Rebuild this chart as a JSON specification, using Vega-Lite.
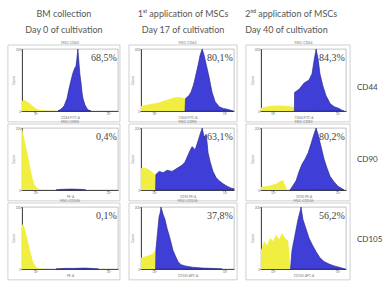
{
"$schema": "https://vega.github.io/schema/vega-lite/v6.json",
"padding": {"left": 7, "top": 10, "right": 0, "bottom": 0},
"background": "white",
"spacing": 7,
"config": {
 "view": {"stroke": "#9a9a9a", "strokeWidth": 0.6},
 "axis": {"grid": false, "domainColor": "#222", "domainWidth": 0.8, "tickColor": "#444", "tickSize": 1.5, "tickWidth": 0.5, "labelFontSize": 3, "labelColor": "#777", "labelPadding": 0, "titleFontSize": 3.2, "titleColor": "#777", "titlePadding": 0, "titleFontWeight": "normal", "labelFont": "Lato", "titleFont": "Lato"},
 "title": {"fontSize": 3.5, "fontWeight": "normal", "color": "#777", "offset": 0.5, "font": "Lato", "anchor": "middle"}
},
"datasets": {
 "pct": [
  {"day": "Day 0", "marker": "CD44", "pct": "68,5%"},
  {"day": "Day 0", "marker": "CD90", "pct": "0,4%"},
  {"day": "Day 0", "marker": "CD105", "pct": "0,1%"},
  {"day": "Day 17", "marker": "CD44", "pct": "80,1%"},
  {"day": "Day 17", "marker": "CD90", "pct": "63,1%"},
  {"day": "Day 17", "marker": "CD105", "pct": "37,8%"},
  {"day": "Day 40", "marker": "CD44", "pct": "84,3%"},
  {"day": "Day 40", "marker": "CD90", "pct": "80,2%"},
  {"day": "Day 40", "marker": "CD105", "pct": "56,2%"}
 ],
 "hist": [
  {"day":"Day 0","marker":"CD44","series":"control","log_fl":1.45,"count":32},
  {"day":"Day 0","marker":"CD44","series":"control","log_fl":1.53,"count":36},
  {"day":"Day 0","marker":"CD44","series":"control","log_fl":1.66,"count":30},
  {"day":"Day 0","marker":"CD44","series":"control","log_fl":1.78,"count":24},
  {"day":"Day 0","marker":"CD44","series":"control","log_fl":1.90,"count":16},
  {"day":"Day 0","marker":"CD44","series":"control","log_fl":2.03,"count":8},
  {"day":"Day 0","marker":"CD44","series":"control","log_fl":2.15,"count":4},
  {"day":"Day 0","marker":"CD44","series":"control","log_fl":2.44,"count":2},
  {"day":"Day 0","marker":"CD44","series":"control","log_fl":2.85,"count":1},
  {"day":"Day 0","marker":"CD44","series":"control","log_fl":3.05,"count":0},
  {"day":"Day 0","marker":"CD44","series":"stained","log_fl":2.93,"count":0},
  {"day":"Day 0","marker":"CD44","series":"stained","log_fl":3.05,"count":6},
  {"day":"Day 0","marker":"CD44","series":"stained","log_fl":3.18,"count":16},
  {"day":"Day 0","marker":"CD44","series":"stained","log_fl":3.30,"count":40},
  {"day":"Day 0","marker":"CD44","series":"stained","log_fl":3.38,"count":70},
  {"day":"Day 0","marker":"CD44","series":"stained","log_fl":3.47,"count":100},
  {"day":"Day 0","marker":"CD44","series":"stained","log_fl":3.55,"count":124},
  {"day":"Day 0","marker":"CD44","series":"stained","log_fl":3.63,"count":140},
  {"day":"Day 0","marker":"CD44","series":"stained","log_fl":3.67,"count":144},
  {"day":"Day 0","marker":"CD44","series":"stained","log_fl":3.71,"count":170},
  {"day":"Day 0","marker":"CD44","series":"stained","log_fl":3.75,"count":200},
  {"day":"Day 0","marker":"CD44","series":"stained","log_fl":3.79,"count":160},
  {"day":"Day 0","marker":"CD44","series":"stained","log_fl":3.83,"count":120},
  {"day":"Day 0","marker":"CD44","series":"stained","log_fl":3.88,"count":90},
  {"day":"Day 0","marker":"CD44","series":"stained","log_fl":3.92,"count":60},
  {"day":"Day 0","marker":"CD44","series":"stained","log_fl":3.96,"count":40},
  {"day":"Day 0","marker":"CD44","series":"stained","log_fl":4.04,"count":20},
  {"day":"Day 0","marker":"CD44","series":"stained","log_fl":4.12,"count":8},
  {"day":"Day 0","marker":"CD44","series":"stained","log_fl":4.21,"count":2},
  {"day":"Day 0","marker":"CD44","series":"stained","log_fl":4.29,"count":0},

  {"day":"Day 17","marker":"CD44","series":"control","log_fl":1.45,"count":16},
  {"day":"Day 17","marker":"CD44","series":"control","log_fl":1.71,"count":20},
  {"day":"Day 17","marker":"CD44","series":"control","log_fl":2.13,"count":26},
  {"day":"Day 17","marker":"CD44","series":"control","log_fl":2.56,"count":36},
  {"day":"Day 17","marker":"CD44","series":"control","log_fl":2.90,"count":44},
  {"day":"Day 17","marker":"CD44","series":"control","log_fl":3.15,"count":44},
  {"day":"Day 17","marker":"CD44","series":"control","log_fl":3.32,"count":40},
  {"day":"Day 17","marker":"CD44","series":"control","log_fl":3.33,"count":0},
  {"day":"Day 17","marker":"CD44","series":"stained","log_fl":3.32,"count":0},
  {"day":"Day 17","marker":"CD44","series":"stained","log_fl":3.34,"count":40},
  {"day":"Day 17","marker":"CD44","series":"stained","log_fl":3.49,"count":50},
  {"day":"Day 17","marker":"CD44","series":"stained","log_fl":3.58,"count":62},
  {"day":"Day 17","marker":"CD44","series":"stained","log_fl":3.66,"count":80},
  {"day":"Day 17","marker":"CD44","series":"stained","log_fl":3.72,"count":96},
  {"day":"Day 17","marker":"CD44","series":"stained","log_fl":3.79,"count":120},
  {"day":"Day 17","marker":"CD44","series":"stained","log_fl":3.88,"count":150},
  {"day":"Day 17","marker":"CD44","series":"stained","log_fl":3.96,"count":180},
  {"day":"Day 17","marker":"CD44","series":"stained","log_fl":4.05,"count":200},
  {"day":"Day 17","marker":"CD44","series":"stained","log_fl":4.13,"count":180},
  {"day":"Day 17","marker":"CD44","series":"stained","log_fl":4.22,"count":150},
  {"day":"Day 17","marker":"CD44","series":"stained","log_fl":4.34,"count":110},
  {"day":"Day 17","marker":"CD44","series":"stained","log_fl":4.47,"count":60},
  {"day":"Day 17","marker":"CD44","series":"stained","log_fl":4.60,"count":30},
  {"day":"Day 17","marker":"CD44","series":"stained","log_fl":4.77,"count":14},
  {"day":"Day 17","marker":"CD44","series":"stained","log_fl":4.94,"count":8},
  {"day":"Day 17","marker":"CD44","series":"stained","log_fl":5.11,"count":6},
  {"day":"Day 17","marker":"CD44","series":"stained","log_fl":5.28,"count":2},
  {"day":"Day 17","marker":"CD44","series":"stained","log_fl":5.36,"count":0},

  {"day":"Day 40","marker":"CD44","series":"control","log_fl":1.45,"count":10},
  {"day":"Day 40","marker":"CD44","series":"control","log_fl":1.82,"count":16},
  {"day":"Day 40","marker":"CD44","series":"control","log_fl":2.29,"count":18},
  {"day":"Day 40","marker":"CD44","series":"control","log_fl":2.75,"count":16},
  {"day":"Day 40","marker":"CD44","series":"control","log_fl":2.98,"count":12},
  {"day":"Day 40","marker":"CD44","series":"control","log_fl":3.0,"count":0},
  {"day":"Day 40","marker":"CD44","series":"stained","log_fl":3.0,"count":0},
  {"day":"Day 40","marker":"CD44","series":"stained","log_fl":3.01,"count":60},
  {"day":"Day 40","marker":"CD44","series":"stained","log_fl":3.22,"count":70},
  {"day":"Day 40","marker":"CD44","series":"stained","log_fl":3.45,"count":90},
  {"day":"Day 40","marker":"CD44","series":"stained","log_fl":3.68,"count":100},
  {"day":"Day 40","marker":"CD44","series":"stained","log_fl":3.82,"count":120},
  {"day":"Day 40","marker":"CD44","series":"stained","log_fl":3.91,"count":160},
  {"day":"Day 40","marker":"CD44","series":"stained","log_fl":4.01,"count":200},
  {"day":"Day 40","marker":"CD44","series":"stained","log_fl":4.10,"count":170},
  {"day":"Day 40","marker":"CD44","series":"stained","log_fl":4.19,"count":120},
  {"day":"Day 40","marker":"CD44","series":"stained","log_fl":4.33,"count":80},
  {"day":"Day 40","marker":"CD44","series":"stained","log_fl":4.47,"count":50},
  {"day":"Day 40","marker":"CD44","series":"stained","log_fl":4.66,"count":24},
  {"day":"Day 40","marker":"CD44","series":"stained","log_fl":4.85,"count":14},
  {"day":"Day 40","marker":"CD44","series":"stained","log_fl":5.08,"count":8},
  {"day":"Day 40","marker":"CD44","series":"stained","log_fl":5.22,"count":2},
  {"day":"Day 40","marker":"CD44","series":"stained","log_fl":5.31,"count":0},

  {"day":"Day 0","marker":"CD90","series":"control","log_fl":1.45,"count":200},
  {"day":"Day 0","marker":"CD90","series":"control","log_fl":1.53,"count":170},
  {"day":"Day 0","marker":"CD90","series":"control","log_fl":1.61,"count":140},
  {"day":"Day 0","marker":"CD90","series":"control","log_fl":1.70,"count":110},
  {"day":"Day 0","marker":"CD90","series":"control","log_fl":1.82,"count":60},
  {"day":"Day 0","marker":"CD90","series":"control","log_fl":1.94,"count":20},
  {"day":"Day 0","marker":"CD90","series":"control","log_fl":2.07,"count":6},
  {"day":"Day 0","marker":"CD90","series":"control","log_fl":2.23,"count":2},
  {"day":"Day 0","marker":"CD90","series":"control","log_fl":2.44,"count":0},
  {"day":"Day 0","marker":"CD90","series":"stained","log_fl":2.85,"count":0},
  {"day":"Day 0","marker":"CD90","series":"stained","log_fl":3.05,"count":2},
  {"day":"Day 0","marker":"CD90","series":"stained","log_fl":3.47,"count":3},
  {"day":"Day 0","marker":"CD90","series":"stained","log_fl":3.88,"count":2},
  {"day":"Day 0","marker":"CD90","series":"stained","log_fl":4.08,"count":0},

  {"day":"Day 17","marker":"CD90","series":"control","log_fl":1.45,"count":70},
  {"day":"Day 17","marker":"CD90","series":"control","log_fl":1.62,"count":72},
  {"day":"Day 17","marker":"CD90","series":"control","log_fl":1.79,"count":66},
  {"day":"Day 17","marker":"CD90","series":"control","log_fl":1.96,"count":56},
  {"day":"Day 17","marker":"CD90","series":"control","log_fl":2.05,"count":50},
  {"day":"Day 17","marker":"CD90","series":"control","log_fl":2.07,"count":0},
  {"day":"Day 17","marker":"CD90","series":"stained","log_fl":2.07,"count":0},
  {"day":"Day 17","marker":"CD90","series":"stained","log_fl":2.08,"count":50},
  {"day":"Day 17","marker":"CD90","series":"stained","log_fl":2.22,"count":60},
  {"day":"Day 17","marker":"CD90","series":"stained","log_fl":2.39,"count":56},
  {"day":"Day 17","marker":"CD90","series":"stained","log_fl":2.56,"count":64},
  {"day":"Day 17","marker":"CD90","series":"stained","log_fl":2.77,"count":60},
  {"day":"Day 17","marker":"CD90","series":"stained","log_fl":2.98,"count":70},
  {"day":"Day 17","marker":"CD90","series":"stained","log_fl":3.19,"count":80},
  {"day":"Day 17","marker":"CD90","series":"stained","log_fl":3.32,"count":90},
  {"day":"Day 17","marker":"CD90","series":"stained","log_fl":3.49,"count":120},
  {"day":"Day 17","marker":"CD90","series":"stained","log_fl":3.62,"count":140},
  {"day":"Day 17","marker":"CD90","series":"stained","log_fl":3.75,"count":130},
  {"day":"Day 17","marker":"CD90","series":"stained","log_fl":3.88,"count":160},
  {"day":"Day 17","marker":"CD90","series":"stained","log_fl":3.96,"count":180},
  {"day":"Day 17","marker":"CD90","series":"stained","log_fl":4.05,"count":200},
  {"day":"Day 17","marker":"CD90","series":"stained","log_fl":4.13,"count":170},
  {"day":"Day 17","marker":"CD90","series":"stained","log_fl":4.22,"count":180},
  {"day":"Day 17","marker":"CD90","series":"stained","log_fl":4.30,"count":120},
  {"day":"Day 17","marker":"CD90","series":"stained","log_fl":4.39,"count":90},
  {"day":"Day 17","marker":"CD90","series":"stained","log_fl":4.51,"count":60},
  {"day":"Day 17","marker":"CD90","series":"stained","log_fl":4.64,"count":40},
  {"day":"Day 17","marker":"CD90","series":"stained","log_fl":4.77,"count":30},
  {"day":"Day 17","marker":"CD90","series":"stained","log_fl":4.94,"count":20},
  {"day":"Day 17","marker":"CD90","series":"stained","log_fl":5.11,"count":12},
  {"day":"Day 17","marker":"CD90","series":"stained","log_fl":5.28,"count":6},
  {"day":"Day 17","marker":"CD90","series":"stained","log_fl":5.40,"count":4},

  {"day":"Day 40","marker":"CD90","series":"control","log_fl":1.45,"count":10},
  {"day":"Day 40","marker":"CD90","series":"control","log_fl":1.82,"count":14},
  {"day":"Day 40","marker":"CD90","series":"control","log_fl":2.15,"count":20},
  {"day":"Day 40","marker":"CD90","series":"control","log_fl":2.33,"count":28},
  {"day":"Day 40","marker":"CD90","series":"control","log_fl":2.47,"count":32},
  {"day":"Day 40","marker":"CD90","series":"control","log_fl":2.57,"count":16},
  {"day":"Day 40","marker":"CD90","series":"control","log_fl":2.66,"count":0},
  {"day":"Day 40","marker":"CD90","series":"stained","log_fl":2.80,"count":0},
  {"day":"Day 40","marker":"CD90","series":"stained","log_fl":2.89,"count":10},
  {"day":"Day 40","marker":"CD90","series":"stained","log_fl":3.08,"count":30},
  {"day":"Day 40","marker":"CD90","series":"stained","log_fl":3.22,"count":60},
  {"day":"Day 40","marker":"CD90","series":"stained","log_fl":3.36,"count":84},
  {"day":"Day 40","marker":"CD90","series":"stained","log_fl":3.50,"count":100},
  {"day":"Day 40","marker":"CD90","series":"stained","log_fl":3.64,"count":120},
  {"day":"Day 40","marker":"CD90","series":"stained","log_fl":3.78,"count":150},
  {"day":"Day 40","marker":"CD90","series":"stained","log_fl":3.91,"count":180},
  {"day":"Day 40","marker":"CD90","series":"stained","log_fl":4.01,"count":200},
  {"day":"Day 40","marker":"CD90","series":"stained","log_fl":4.10,"count":180},
  {"day":"Day 40","marker":"CD90","series":"stained","log_fl":4.24,"count":140},
  {"day":"Day 40","marker":"CD90","series":"stained","log_fl":4.38,"count":100},
  {"day":"Day 40","marker":"CD90","series":"stained","log_fl":4.52,"count":70},
  {"day":"Day 40","marker":"CD90","series":"stained","log_fl":4.66,"count":44},
  {"day":"Day 40","marker":"CD90","series":"stained","log_fl":4.85,"count":26},
  {"day":"Day 40","marker":"CD90","series":"stained","log_fl":5.03,"count":12},
  {"day":"Day 40","marker":"CD90","series":"stained","log_fl":5.22,"count":4},
  {"day":"Day 40","marker":"CD90","series":"stained","log_fl":5.31,"count":0},

  {"day":"Day 0","marker":"CD105","series":"control","log_fl":1.45,"count":144},
  {"day":"Day 0","marker":"CD105","series":"control","log_fl":1.53,"count":140},
  {"day":"Day 0","marker":"CD105","series":"control","log_fl":1.66,"count":100},
  {"day":"Day 0","marker":"CD105","series":"control","log_fl":1.78,"count":60},
  {"day":"Day 0","marker":"CD105","series":"control","log_fl":1.90,"count":24},
  {"day":"Day 0","marker":"CD105","series":"control","log_fl":2.03,"count":6},
  {"day":"Day 0","marker":"CD105","series":"control","log_fl":2.23,"count":2},
  {"day":"Day 0","marker":"CD105","series":"control","log_fl":2.44,"count":0},
  {"day":"Day 0","marker":"CD105","series":"stained","log_fl":2.85,"count":0},
  {"day":"Day 0","marker":"CD105","series":"stained","log_fl":3.20,"count":2},
  {"day":"Day 0","marker":"CD105","series":"stained","log_fl":3.60,"count":2},
  {"day":"Day 0","marker":"CD105","series":"stained","log_fl":4.00,"count":3},
  {"day":"Day 0","marker":"CD105","series":"stained","log_fl":4.30,"count":2},
  {"day":"Day 0","marker":"CD105","series":"stained","log_fl":4.60,"count":0},

  {"day":"Day 17","marker":"CD105","series":"control","log_fl":1.45,"count":36},
  {"day":"Day 17","marker":"CD105","series":"control","log_fl":1.62,"count":40},
  {"day":"Day 17","marker":"CD105","series":"control","log_fl":1.79,"count":44},
  {"day":"Day 17","marker":"CD105","series":"control","log_fl":1.96,"count":50},
  {"day":"Day 17","marker":"CD105","series":"control","log_fl":2.05,"count":60},
  {"day":"Day 17","marker":"CD105","series":"control","log_fl":2.07,"count":0},
  {"day":"Day 17","marker":"CD105","series":"stained","log_fl":2.07,"count":0},
  {"day":"Day 17","marker":"CD105","series":"stained","log_fl":2.08,"count":60},
  {"day":"Day 17","marker":"CD105","series":"stained","log_fl":2.13,"count":100},
  {"day":"Day 17","marker":"CD105","series":"stained","log_fl":2.22,"count":170},
  {"day":"Day 17","marker":"CD105","series":"stained","log_fl":2.26,"count":180},
  {"day":"Day 17","marker":"CD105","series":"stained","log_fl":2.30,"count":200},
  {"day":"Day 17","marker":"CD105","series":"stained","log_fl":2.39,"count":176},
  {"day":"Day 17","marker":"CD105","series":"stained","log_fl":2.47,"count":160},
  {"day":"Day 17","marker":"CD105","series":"stained","log_fl":2.56,"count":130},
  {"day":"Day 17","marker":"CD105","series":"stained","log_fl":2.64,"count":110},
  {"day":"Day 17","marker":"CD105","series":"stained","log_fl":2.73,"count":84},
  {"day":"Day 17","marker":"CD105","series":"stained","log_fl":2.81,"count":60},
  {"day":"Day 17","marker":"CD105","series":"stained","log_fl":2.90,"count":44},
  {"day":"Day 17","marker":"CD105","series":"stained","log_fl":3.02,"count":24},
  {"day":"Day 17","marker":"CD105","series":"stained","log_fl":3.15,"count":14},
  {"day":"Day 17","marker":"CD105","series":"stained","log_fl":3.32,"count":10},
  {"day":"Day 17","marker":"CD105","series":"stained","log_fl":3.62,"count":6},
  {"day":"Day 17","marker":"CD105","series":"stained","log_fl":4.05,"count":3},
  {"day":"Day 17","marker":"CD105","series":"stained","log_fl":4.47,"count":2},
  {"day":"Day 17","marker":"CD105","series":"stained","log_fl":4.90,"count":0},

  {"day":"Day 40","marker":"CD105","series":"control","log_fl":1.45,"count":60},
  {"day":"Day 40","marker":"CD105","series":"control","log_fl":1.59,"count":90},
  {"day":"Day 40","marker":"CD105","series":"control","log_fl":1.73,"count":76},
  {"day":"Day 40","marker":"CD105","series":"control","log_fl":1.87,"count":100},
  {"day":"Day 40","marker":"CD105","series":"control","log_fl":2.01,"count":90},
  {"day":"Day 40","marker":"CD105","series":"control","log_fl":2.15,"count":110},
  {"day":"Day 40","marker":"CD105","series":"control","log_fl":2.29,"count":96},
  {"day":"Day 40","marker":"CD105","series":"control","log_fl":2.43,"count":116},
  {"day":"Day 40","marker":"CD105","series":"control","log_fl":2.57,"count":100},
  {"day":"Day 40","marker":"CD105","series":"control","log_fl":2.71,"count":90},
  {"day":"Day 40","marker":"CD105","series":"control","log_fl":2.78,"count":40},
  {"day":"Day 40","marker":"CD105","series":"control","log_fl":2.80,"count":0},
  {"day":"Day 40","marker":"CD105","series":"stained","log_fl":2.82,"count":0},
  {"day":"Day 40","marker":"CD105","series":"stained","log_fl":2.89,"count":60},
  {"day":"Day 40","marker":"CD105","series":"stained","log_fl":3.03,"count":110},
  {"day":"Day 40","marker":"CD105","series":"stained","log_fl":3.17,"count":160},
  {"day":"Day 40","marker":"CD105","series":"stained","log_fl":3.26,"count":184},
  {"day":"Day 40","marker":"CD105","series":"stained","log_fl":3.31,"count":200},
  {"day":"Day 40","marker":"CD105","series":"stained","log_fl":3.40,"count":160},
  {"day":"Day 40","marker":"CD105","series":"stained","log_fl":3.54,"count":130},
  {"day":"Day 40","marker":"CD105","series":"stained","log_fl":3.68,"count":100},
  {"day":"Day 40","marker":"CD105","series":"stained","log_fl":3.82,"count":80},
  {"day":"Day 40","marker":"CD105","series":"stained","log_fl":4.01,"count":56},
  {"day":"Day 40","marker":"CD105","series":"stained","log_fl":4.19,"count":36},
  {"day":"Day 40","marker":"CD105","series":"stained","log_fl":4.38,"count":24},
  {"day":"Day 40","marker":"CD105","series":"stained","log_fl":4.61,"count":16},
  {"day":"Day 40","marker":"CD105","series":"stained","log_fl":4.85,"count":10},
  {"day":"Day 40","marker":"CD105","series":"stained","log_fl":5.08,"count":6},
  {"day":"Day 40","marker":"CD105","series":"stained","log_fl":5.26,"count":2},
  {"day":"Day 40","marker":"CD105","series":"stained","log_fl":5.36,"count":0}
 ]
},
"hconcat": [
 {
  "title": {"text": "BM collection", "subtitle": "Day 0 of cultivation", "fontSize": 9, "subtitleFontSize": 9, "color": "#555", "subtitleColor": "#555", "font": "Lato", "subtitleFont": "Lato", "subtitlePadding": 7, "offset": 5, "anchor": "middle"},
  "spacing": -4,
  "vconcat": [
   {"width": 96, "height": 62, "title": "MSC-CD44",
    "layer": [
     {"data": {"values": [{"frame": "panel"}]}, "mark": {"type": "rect", "fill": null, "stroke": "#c4c4c4", "strokeWidth": 0.8}, "encoding": {"x": {"datum": 0.87, "type": "quantitative"}, "x2": {"datum": 5.48}, "y": {"datum": -35, "type": "quantitative"}, "y2": {"datum": 213}}},
     {"data": {"name": "hist"}, "transform": [{"filter": "datum.day === 'Day 0' && datum.marker === 'CD44' && datum.series === 'control'"}], "mark": {"type": "area", "color": "#f0ee40"},
      "encoding": {"x": {"field": "log_fl", "type": "quantitative", "scale": {"domain": [1.45, 5.4], "nice": false, "zero": false}, "axis": {"title": "CD44 FITC-A", "values": [2,3,4,5], "labelExpr": "'10' + ['⁰','¹','²','³','⁴','⁵'][datum.value]"}}, "y": {"field": "count", "type": "quantitative", "scale": {"domain": [0, 200]}, "axis": {"title": "Count", "values": [0,50,100,150,200]}}}},
     {"data": {"name": "hist"}, "transform": [{"filter": "datum.day === 'Day 0' && datum.marker === 'CD44' && datum.series === 'stained'"}], "mark": {"type": "area", "color": "#3f3fd8", "stroke": "#20207a", "strokeWidth": 0.6},
      "encoding": {"x": {"field": "log_fl", "type": "quantitative"}, "y": {"field": "count", "type": "quantitative"}}},
     {"data": {"name": "pct"}, "transform": [{"filter": "datum.day === 'Day 0' && datum.marker === 'CD44'"}], "mark": {"type": "text", "align": "right", "baseline": "middle", "font": "Liberation Serif", "fontSize": 10, "fill": "#444"}, "encoding": {"x": {"datum": 5.35, "type": "quantitative"}, "y": {"datum": 172, "type": "quantitative"}, "text": {"field": "pct", "type": "nominal"}}}
    ]},
   {"width": 96, "height": 62, "title": "MSC-CD90",
    "layer": [
     {"data": {"values": [{"frame": "panel"}]}, "mark": {"type": "rect", "fill": null, "stroke": "#c4c4c4", "strokeWidth": 0.8}, "encoding": {"x": {"datum": 0.87, "type": "quantitative"}, "x2": {"datum": 5.48}, "y": {"datum": -35, "type": "quantitative"}, "y2": {"datum": 213}}},
     {"data": {"name": "hist"}, "transform": [{"filter": "datum.day === 'Day 0' && datum.marker === 'CD90' && datum.series === 'control'"}], "mark": {"type": "area", "color": "#f0ee40"},
      "encoding": {"x": {"field": "log_fl", "type": "quantitative", "scale": {"domain": [1.45, 5.4], "nice": false, "zero": false}, "axis": {"title": "PE-A", "values": [2,3,4,5], "labelExpr": "'10' + ['⁰','¹','²','³','⁴','⁵'][datum.value]"}}, "y": {"field": "count", "type": "quantitative", "scale": {"domain": [0, 200]}, "axis": {"title": "Count", "values": [0,50,100,150,200]}}}},
     {"data": {"name": "hist"}, "transform": [{"filter": "datum.day === 'Day 0' && datum.marker === 'CD90' && datum.series === 'stained'"}], "mark": {"type": "area", "color": "#3f3fd8", "stroke": "#20207a", "strokeWidth": 0.6},
      "encoding": {"x": {"field": "log_fl", "type": "quantitative"}, "y": {"field": "count", "type": "quantitative"}}},
     {"data": {"name": "pct"}, "transform": [{"filter": "datum.day === 'Day 0' && datum.marker === 'CD90'"}], "mark": {"type": "text", "align": "right", "baseline": "middle", "font": "Liberation Serif", "fontSize": 10, "fill": "#444"}, "encoding": {"x": {"datum": 5.35, "type": "quantitative"}, "y": {"datum": 172, "type": "quantitative"}, "text": {"field": "pct", "type": "nominal"}}}
    ]},
   {"width": 96, "height": 62, "title": "MSC-CD105",
    "layer": [
     {"data": {"values": [{"frame": "panel"}]}, "mark": {"type": "rect", "fill": null, "stroke": "#c4c4c4", "strokeWidth": 0.8}, "encoding": {"x": {"datum": 0.87, "type": "quantitative"}, "x2": {"datum": 5.48}, "y": {"datum": -35, "type": "quantitative"}, "y2": {"datum": 213}}},
     {"data": {"name": "hist"}, "transform": [{"filter": "datum.day === 'Day 0' && datum.marker === 'CD105' && datum.series === 'control'"}], "mark": {"type": "area", "color": "#f0ee40"},
      "encoding": {"x": {"field": "log_fl", "type": "quantitative", "scale": {"domain": [1.45, 5.4], "nice": false, "zero": false}, "axis": {"title": "PE-A", "values": [2,3,4,5], "labelExpr": "'10' + ['⁰','¹','²','³','⁴','⁵'][datum.value]"}}, "y": {"field": "count", "type": "quantitative", "scale": {"domain": [0, 200]}, "axis": {"title": "Count", "values": [0,50,100,150,200]}}}},
     {"data": {"name": "hist"}, "transform": [{"filter": "datum.day === 'Day 0' && datum.marker === 'CD105' && datum.series === 'stained'"}], "mark": {"type": "area", "color": "#3f3fd8", "stroke": "#20207a", "strokeWidth": 0.6},
      "encoding": {"x": {"field": "log_fl", "type": "quantitative"}, "y": {"field": "count", "type": "quantitative"}}},
     {"data": {"name": "pct"}, "transform": [{"filter": "datum.day === 'Day 0' && datum.marker === 'CD105'"}], "mark": {"type": "text", "align": "right", "baseline": "middle", "font": "Liberation Serif", "fontSize": 10, "fill": "#444"}, "encoding": {"x": {"datum": 5.35, "type": "quantitative"}, "y": {"datum": 172, "type": "quantitative"}, "text": {"field": "pct", "type": "nominal"}}}
    ]}
  ]
 },
 {
  "title": {"text": "1ˢᵗ application of MSCs", "subtitle": "Day 17 of cultivation", "fontSize": 9, "subtitleFontSize": 9, "color": "#555", "subtitleColor": "#555", "font": "Lato", "subtitleFont": "Lato", "subtitlePadding": 7, "offset": 5, "anchor": "middle"},
  "spacing": -4,
  "vconcat": [
   {"width": 93, "height": 62, "title": "MSC-CD44",
    "layer": [
     {"data": {"values": [{"frame": "panel"}]}, "mark": {"type": "rect", "fill": null, "stroke": "#c4c4c4", "strokeWidth": 0.8}, "encoding": {"x": {"datum": 0.94, "type": "quantitative"}, "x2": {"datum": 5.53}, "y": {"datum": -35, "type": "quantitative"}, "y2": {"datum": 213}}},
     {"data": {"name": "hist"}, "transform": [{"filter": "datum.day === 'Day 17' && datum.marker === 'CD44' && datum.series === 'control'"}], "mark": {"type": "area", "color": "#f0ee40"},
      "encoding": {"x": {"field": "log_fl", "type": "quantitative", "scale": {"domain": [1.45, 5.4], "nice": false, "zero": false}, "axis": {"title": "CD44 FITC-A", "values": [2,3,4,5], "labelExpr": "'10' + ['⁰','¹','²','³','⁴','⁵'][datum.value]"}}, "y": {"field": "count", "type": "quantitative", "scale": {"domain": [0, 200]}, "axis": {"title": "Count", "values": [0,50,100,150,200]}}}},
     {"data": {"name": "hist"}, "transform": [{"filter": "datum.day === 'Day 17' && datum.marker === 'CD44' && datum.series === 'stained'"}], "mark": {"type": "area", "color": "#3f3fd8", "stroke": "#20207a", "strokeWidth": 0.6},
      "encoding": {"x": {"field": "log_fl", "type": "quantitative"}, "y": {"field": "count", "type": "quantitative"}}},
     {"data": {"name": "pct"}, "transform": [{"filter": "datum.day === 'Day 17' && datum.marker === 'CD44'"}], "mark": {"type": "text", "align": "right", "baseline": "middle", "font": "Liberation Serif", "fontSize": 10, "fill": "#444"}, "encoding": {"x": {"datum": 5.35, "type": "quantitative"}, "y": {"datum": 172, "type": "quantitative"}, "text": {"field": "pct", "type": "nominal"}}}
    ]},
   {"width": 93, "height": 62, "title": "MSC-CD90",
    "layer": [
     {"data": {"values": [{"frame": "panel"}]}, "mark": {"type": "rect", "fill": null, "stroke": "#c4c4c4", "strokeWidth": 0.8}, "encoding": {"x": {"datum": 0.94, "type": "quantitative"}, "x2": {"datum": 5.53}, "y": {"datum": -35, "type": "quantitative"}, "y2": {"datum": 213}}},
     {"data": {"name": "hist"}, "transform": [{"filter": "datum.day === 'Day 17' && datum.marker === 'CD90' && datum.series === 'control'"}], "mark": {"type": "area", "color": "#f0ee40"},
      "encoding": {"x": {"field": "log_fl", "type": "quantitative", "scale": {"domain": [1.45, 5.4], "nice": false, "zero": false}, "axis": {"title": "CD90 PE-A", "values": [2,3,4,5], "labelExpr": "'10' + ['⁰','¹','²','³','⁴','⁵'][datum.value]"}}, "y": {"field": "count", "type": "quantitative", "scale": {"domain": [0, 200]}, "axis": {"title": "Count", "values": [0,50,100,150,200]}}}},
     {"data": {"name": "hist"}, "transform": [{"filter": "datum.day === 'Day 17' && datum.marker === 'CD90' && datum.series === 'stained'"}], "mark": {"type": "area", "color": "#3f3fd8", "stroke": "#20207a", "strokeWidth": 0.6},
      "encoding": {"x": {"field": "log_fl", "type": "quantitative"}, "y": {"field": "count", "type": "quantitative"}}},
     {"data": {"name": "pct"}, "transform": [{"filter": "datum.day === 'Day 17' && datum.marker === 'CD90'"}], "mark": {"type": "text", "align": "right", "baseline": "middle", "font": "Liberation Serif", "fontSize": 10, "fill": "#444"}, "encoding": {"x": {"datum": 5.35, "type": "quantitative"}, "y": {"datum": 172, "type": "quantitative"}, "text": {"field": "pct", "type": "nominal"}}}
    ]},
   {"width": 93, "height": 62, "title": "MSC-CD105",
    "layer": [
     {"data": {"values": [{"frame": "panel"}]}, "mark": {"type": "rect", "fill": null, "stroke": "#c4c4c4", "strokeWidth": 0.8}, "encoding": {"x": {"datum": 0.94, "type": "quantitative"}, "x2": {"datum": 5.53}, "y": {"datum": -35, "type": "quantitative"}, "y2": {"datum": 213}}},
     {"data": {"name": "hist"}, "transform": [{"filter": "datum.day === 'Day 17' && datum.marker === 'CD105' && datum.series === 'control'"}], "mark": {"type": "area", "color": "#f0ee40"},
      "encoding": {"x": {"field": "log_fl", "type": "quantitative", "scale": {"domain": [1.45, 5.4], "nice": false, "zero": false}, "axis": {"title": "CD105 APC-A", "values": [2,3,4,5], "labelExpr": "'10' + ['⁰','¹','²','³','⁴','⁵'][datum.value]"}}, "y": {"field": "count", "type": "quantitative", "scale": {"domain": [0, 200]}, "axis": {"title": "Count", "values": [0,50,100,150,200]}}}},
     {"data": {"name": "hist"}, "transform": [{"filter": "datum.day === 'Day 17' && datum.marker === 'CD105' && datum.series === 'stained'"}], "mark": {"type": "area", "color": "#3f3fd8", "stroke": "#20207a", "strokeWidth": 0.6},
      "encoding": {"x": {"field": "log_fl", "type": "quantitative"}, "y": {"field": "count", "type": "quantitative"}}},
     {"data": {"name": "pct"}, "transform": [{"filter": "datum.day === 'Day 17' && datum.marker === 'CD105'"}], "mark": {"type": "text", "align": "right", "baseline": "middle", "font": "Liberation Serif", "fontSize": 10, "fill": "#444"}, "encoding": {"x": {"datum": 5.35, "type": "quantitative"}, "y": {"datum": 172, "type": "quantitative"}, "text": {"field": "pct", "type": "nominal"}}}
    ]}
  ]
 },
 {
  "title": {"text": "2ⁿᵈ application of MSCs", "subtitle": "Day 40 of cultivation", "fontSize": 9, "subtitleFontSize": 9, "color": "#555", "subtitleColor": "#555", "font": "Lato", "subtitleFont": "Lato", "subtitlePadding": 7, "offset": 5, "anchor": "start"},
  "spacing": -4,
  "vconcat": [
   {"width": 85, "height": 62, "title": "MSC-CD44",
    "layer": [
     {"data": {"values": [{"frame": "panel"}]}, "mark": {"type": "rect", "fill": null, "stroke": "#c4c4c4", "strokeWidth": 0.8}, "encoding": {"x": {"datum": 0.75, "type": "quantitative"}, "x2": {"datum": 5.59}, "y": {"datum": -35, "type": "quantitative"}, "y2": {"datum": 213}}},
     {"data": {"name": "hist"}, "transform": [{"filter": "datum.day === 'Day 40' && datum.marker === 'CD44' && datum.series === 'control'"}], "mark": {"type": "area", "color": "#f0ee40"},
      "encoding": {"x": {"field": "log_fl", "type": "quantitative", "scale": {"domain": [1.45, 5.4], "nice": false, "zero": false}, "axis": {"title": "CD44 FITC-A", "values": [2,3,4,5], "labelExpr": "'10' + ['⁰','¹','²','³','⁴','⁵'][datum.value]"}}, "y": {"field": "count", "type": "quantitative", "scale": {"domain": [0, 200]}, "axis": {"title": "Count", "values": [0,50,100,150,200]}}}},
     {"data": {"name": "hist"}, "transform": [{"filter": "datum.day === 'Day 40' && datum.marker === 'CD44' && datum.series === 'stained'"}], "mark": {"type": "area", "color": "#3f3fd8", "stroke": "#20207a", "strokeWidth": 0.6},
      "encoding": {"x": {"field": "log_fl", "type": "quantitative"}, "y": {"field": "count", "type": "quantitative"}}},
     {"data": {"name": "pct"}, "transform": [{"filter": "datum.day === 'Day 40' && datum.marker === 'CD44'"}], "mark": {"type": "text", "align": "right", "baseline": "middle", "font": "Liberation Serif", "fontSize": 10, "fill": "#444"}, "encoding": {"x": {"datum": 5.35, "type": "quantitative"}, "y": {"datum": 172, "type": "quantitative"}, "text": {"field": "pct", "type": "nominal"}}},
     {"data": {"values": [{"label": "CD44"}]}, "mark": {"type": "text", "align": "left", "baseline": "middle", "dx": 11, "font": "Lato", "fontSize": 8, "fill": "#444"}, "encoding": {"x": {"datum": 5.4, "type": "quantitative"}, "y": {"datum": 73, "type": "quantitative"}, "text": {"field": "label", "type": "nominal"}}}
    ]},
   {"width": 85, "height": 62, "title": "MSC-CD90",
    "layer": [
     {"data": {"values": [{"frame": "panel"}]}, "mark": {"type": "rect", "fill": null, "stroke": "#c4c4c4", "strokeWidth": 0.8}, "encoding": {"x": {"datum": 0.75, "type": "quantitative"}, "x2": {"datum": 5.59}, "y": {"datum": -35, "type": "quantitative"}, "y2": {"datum": 213}}},
     {"data": {"name": "hist"}, "transform": [{"filter": "datum.day === 'Day 40' && datum.marker === 'CD90' && datum.series === 'control'"}], "mark": {"type": "area", "color": "#f0ee40"},
      "encoding": {"x": {"field": "log_fl", "type": "quantitative", "scale": {"domain": [1.45, 5.4], "nice": false, "zero": false}, "axis": {"title": "CD90 PE-A", "values": [2,3,4,5], "labelExpr": "'10' + ['⁰','¹','²','³','⁴','⁵'][datum.value]"}}, "y": {"field": "count", "type": "quantitative", "scale": {"domain": [0, 200]}, "axis": {"title": "Count", "values": [0,50,100,150,200]}}}},
     {"data": {"name": "hist"}, "transform": [{"filter": "datum.day === 'Day 40' && datum.marker === 'CD90' && datum.series === 'stained'"}], "mark": {"type": "area", "color": "#3f3fd8", "stroke": "#20207a", "strokeWidth": 0.6},
      "encoding": {"x": {"field": "log_fl", "type": "quantitative"}, "y": {"field": "count", "type": "quantitative"}}},
     {"data": {"name": "pct"}, "transform": [{"filter": "datum.day === 'Day 40' && datum.marker === 'CD90'"}], "mark": {"type": "text", "align": "right", "baseline": "middle", "font": "Liberation Serif", "fontSize": 10, "fill": "#444"}, "encoding": {"x": {"datum": 5.35, "type": "quantitative"}, "y": {"datum": 172, "type": "quantitative"}, "text": {"field": "pct", "type": "nominal"}}},
     {"data": {"values": [{"label": "CD90"}]}, "mark": {"type": "text", "align": "left", "baseline": "middle", "dx": 11, "font": "Lato", "fontSize": 8, "fill": "#444"}, "encoding": {"x": {"datum": 5.4, "type": "quantitative"}, "y": {"datum": 97, "type": "quantitative"}, "text": {"field": "label", "type": "nominal"}}}
    ]},
   {"width": 85, "height": 62, "title": "MSC-CD105",
    "layer": [
     {"data": {"values": [{"frame": "panel"}]}, "mark": {"type": "rect", "fill": null, "stroke": "#c4c4c4", "strokeWidth": 0.8}, "encoding": {"x": {"datum": 0.75, "type": "quantitative"}, "x2": {"datum": 5.59}, "y": {"datum": -35, "type": "quantitative"}, "y2": {"datum": 213}}},
     {"data": {"name": "hist"}, "transform": [{"filter": "datum.day === 'Day 40' && datum.marker === 'CD105' && datum.series === 'control'"}], "mark": {"type": "area", "color": "#f0ee40"},
      "encoding": {"x": {"field": "log_fl", "type": "quantitative", "scale": {"domain": [1.45, 5.4], "nice": false, "zero": false}, "axis": {"title": "CD105 APC-A", "values": [2,3,4,5], "labelExpr": "'10' + ['⁰','¹','²','³','⁴','⁵'][datum.value]"}}, "y": {"field": "count", "type": "quantitative", "scale": {"domain": [0, 200]}, "axis": {"title": "Count", "values": [0,50,100,150,200]}}}},
     {"data": {"name": "hist"}, "transform": [{"filter": "datum.day === 'Day 40' && datum.marker === 'CD105' && datum.series === 'stained'"}], "mark": {"type": "area", "color": "#3f3fd8", "stroke": "#20207a", "strokeWidth": 0.6},
      "encoding": {"x": {"field": "log_fl", "type": "quantitative"}, "y": {"field": "count", "type": "quantitative"}}},
     {"data": {"name": "pct"}, "transform": [{"filter": "datum.day === 'Day 40' && datum.marker === 'CD105'"}], "mark": {"type": "text", "align": "right", "baseline": "middle", "font": "Liberation Serif", "fontSize": 10, "fill": "#444"}, "encoding": {"x": {"datum": 5.35, "type": "quantitative"}, "y": {"datum": 172, "type": "quantitative"}, "text": {"field": "pct", "type": "nominal"}}},
     {"data": {"values": [{"label": "CD105"}]}, "mark": {"type": "text", "align": "left", "baseline": "middle", "dx": 11, "font": "Lato", "fontSize": 8, "fill": "#444"}, "encoding": {"x": {"datum": 5.4, "type": "quantitative"}, "y": {"datum": 95, "type": "quantitative"}, "text": {"field": "label", "type": "nominal"}}}
    ]}
  ]
 }
]
}
